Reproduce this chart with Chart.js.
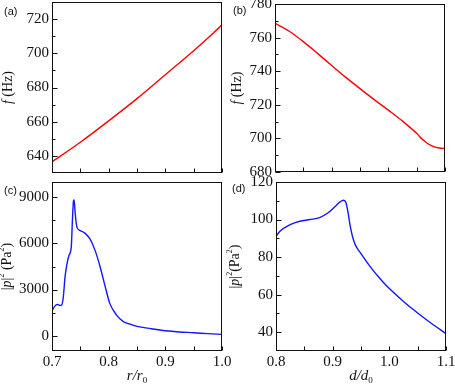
<!DOCTYPE html>
<html>
<head>
<meta charset="utf-8">
<script src="https://cdn.jsdelivr.net/npm/chart.js@4.4.1/dist/chart.umd.min.js"></script>
<style>
    body { margin: 0; background: #fff; }
    #wrap { position: relative; width: 455px; height: 384px; }
    #wrap canvas { position: absolute; left: 0; top: 0; }
</style>
</head>
<body>
<div id="wrap">
    <canvas id="chartA" width="455" height="384"></canvas>
    <canvas id="chartB" width="455" height="384"></canvas>
    <canvas id="chartC" width="455" height="384"></canvas>
    <canvas id="chartD" width="455" height="384"></canvas>
</div>
<script>
// --- (a) frequency vs r/r0 ---
const aX = [0.70, 0.75, 0.80, 0.85, 0.90, 0.95, 1.00];
const aF = [636.5, 648, 660.5, 673.5, 687.5, 701.5, 716.5];

// --- (b) frequency vs d/d0 ---
const bX = [0.80, 0.825, 0.85, 0.875, 0.90, 0.925, 0.95, 0.975, 1.00, 1.025, 1.05, 1.06, 1.07, 1.08, 1.09, 1.10];
const bF = [768.5, 763.8, 757.6, 750.6, 743.4, 736.3, 729.6, 723.1, 716.8, 710.3, 703.0, 699.5, 696.8, 695.1, 694.3, 694.0];

// --- (c) |p|^2 vs r/r0 ---
const cX = [0.700, 0.705, 0.709, 0.714, 0.717, 0.720, 0.723, 0.726, 0.730, 0.734, 0.736, 0.738, 0.739, 0.741,
            0.744, 0.749, 0.758, 0.767, 0.776, 0.785, 0.794, 0.802, 0.814, 0.826, 0.838, 0.850, 0.875, 0.900,
            0.925, 0.950, 0.975, 1.000];
const cP = [1620, 1920, 2030, 1970, 1990, 2520, 3820, 4580, 5230, 5760, 7490, 8790, 8830, 7930,
            7060, 6850, 6670, 6300, 5550, 4470, 3170, 2100, 1340, 910, 740, 600, 450, 320,
            240, 190, 130, 80];

// --- (d) |p|^2 vs d/d0 ---
const dX = [0.800, 0.807, 0.825, 0.842, 0.860, 0.878, 0.892, 0.904, 0.913, 0.919, 0.9235, 0.927, 0.931,
            0.935, 0.940, 0.950, 0.960, 0.970, 0.980, 0.990, 1.000, 1.025, 1.050, 1.075, 1.100];
const dP = [91.1, 93.8, 97.3, 99.1, 100, 101.2, 103.6, 106.8, 109.4, 110.3, 108.9, 104, 96.5,
            91, 86.5, 81.8, 77.5, 73.5, 69.8, 66.4, 63.3, 56.4, 50.2, 44.5, 39.2];

// --- tick labels / tick marks ---
const rTicks = [0.7, 0.8, 0.9, 1.0];
const rMinor = [0.75, 0.85, 0.95];
const dTicks = [0.8, 0.9, 1.0, 1.1];
const dMinor = [0.85, 0.95, 1.05];
const aYTicks = [640, 660, 680, 700, 720];
const aYMinor = [650, 670, 690, 710];
const bYTicks = [680, 700, 720, 740, 760, 780];
const bYMinor = [690, 710, 730, 750, 770];
const cYTicks = [0, 3000, 6000, 9000];
const cYMinor = [1500, 4500, 7500];
const dYTicks = [40, 60, 80, 100, 120];
const dYMinor = [50, 70, 90, 110];

const SERIF = '"Liberation Serif", "Times New Roman", serif';
const SANS = '"Liberation Sans", Arial, sans-serif';
const INK = '#111';

// title pieces: [text, style] with style n = normal, i = italic, sup, sub
const fTitle = [['f', 'i'], [' (Hz)', 'n']];
const pTitle = [['|', 'n'], ['p', 'i'], ['|', 'n'], ['2', 'sup'], [' (Pa', 'n'], ['2', 'sup'], [')', 'n']];
const pTitleTight = [['|', 'n'], ['p', 'i'], ['|', 'n'], ['2', 'sup'], ['(Pa', 'n'], ['2', 'sup'], [')', 'n']];
const rTitle = [['r', 'i'], ['/', 'i'], ['r', 'i'], ['0', 'sub']];
const dTitle = [['d', 'i'], ['/', 'i'], ['d', 'i'], ['0', 'sub']];

// draw a run of mixed-style text centred on (0,0) of the current transform
function drawRich(ctx, parts, size) {
    const fontFor = s => {
        if (s === 'i') return `italic ${size}px ${SERIF}`;
        if (s === 'sup' || s === 'sub') return `${Math.round(size * 0.6)}px ${SERIF}`;
        return `${size}px ${SERIF}`;
    };
    let total = 0;
    parts.forEach(([t, s]) => { ctx.font = fontFor(s); total += ctx.measureText(t).width; });
    let x = -total / 2;
    ctx.textBaseline = 'middle';
    ctx.textAlign = 'left';
    parts.forEach(([t, s]) => {
        ctx.font = fontFor(s);
        let dy = 0;
        if (s === 'sup') dy = -size * 0.35;
        if (s === 'sub') dy = size * 0.3;
        ctx.fillText(t, x, dy);
        x += ctx.measureText(t).width;
    });
}

// frame, inward tick marks, axis titles and panel letter
const framePlugin = {
    id: 'panelFrame',
    afterDraw(chart) {
        const p = chart.options.plugins.panelFrame;
        const { ctx, chartArea: a, scales } = chart;
        const L = Math.round(a.left) + 0.5, R = Math.round(a.right) - 0.5;
        const T = Math.round(a.top) + 0.5, B = Math.round(a.bottom) - 0.5;
        ctx.save();
        ctx.strokeStyle = INK;
        ctx.lineWidth = 1;
        ctx.strokeRect(L, T, R - L, B - T);

        ctx.beginPath();
        const yTick = (v, len) => {
            const py = Math.round(scales.y.getPixelForValue(v)) + 0.5;
            ctx.moveTo(L, py); ctx.lineTo(L + len, py);
        };
        const xTick = (v, len) => {
            const px = Math.round(scales.x.getPixelForValue(v)) + 0.5;
            ctx.moveTo(px, B); ctx.lineTo(px, B - len);
        };
        p.yMajor.forEach(v => yTick(v, 5));
        p.yMinor.forEach(v => yTick(v, 3));
        p.xMajor.forEach(v => xTick(v, 4));
        p.xMinor.forEach(v => xTick(v, 4));
        ctx.stroke();

        ctx.fillStyle = INK;
        // y title, rotated
        ctx.save();
        ctx.translate(a.left - p.yTitleOffset, (a.top + a.bottom) / 2);
        ctx.rotate(-Math.PI / 2);
        drawRich(ctx, p.yTitle, 14);
        ctx.restore();
        // x title
        if (p.xTitle) {
            ctx.save();
            ctx.translate((a.left + a.right) / 2, 376);
            drawRich(ctx, p.xTitle, 15);
            ctx.restore();
        }
        // panel letter
        ctx.font = `11px ${SANS}`;
        ctx.textAlign = 'left';
        ctx.textBaseline = 'alphabetic';
        ctx.fillText(p.letter, p.letterX, p.letterY);
        ctx.restore();
    }
};

function makePanel(id, cfg) {
    const tickFont = { family: SERIF, size: 15 };
    return new Chart(document.getElementById(id), {
        type: 'scatter',
        data: {
            datasets: [{
                data: cfg.x.map((v, i) => ({ x: v, y: cfg.y[i] })),
                showLine: true,
                borderColor: cfg.color,
                borderWidth: 1.4,
                pointRadius: 0,
                cubicInterpolationMode: 'monotone',
                fill: false
            }]
        },
        options: {
            responsive: false,
            animation: false,
            devicePixelRatio: 1,
            layout: { padding: cfg.pad },
            plugins: {
                legend: { display: false },
                tooltip: { enabled: false },
                panelFrame: cfg.frame
            },
            scales: {
                x: {
                    type: 'linear',
                    min: cfg.xMin,
                    max: cfg.xMax,
                    grid: { display: false, drawTicks: false },
                    border: { display: false },
                    ticks: {
                        display: cfg.xLabels,
                        padding: 2,
                        color: INK,
                        font: tickFont,
                        maxRotation: 0,
                        callback: v => v.toFixed(1)
                    },
                    afterBuildTicks: s => { s.ticks = cfg.frame.xMajor.map(v => ({ value: v })); },
                    afterFit: s => {
                        s.height = cfg.xLabels ? 20 : 0;
                        s.paddingLeft = 0; s.paddingRight = 0;
                    }
                },
                y: {
                    type: 'linear',
                    min: cfg.yMin,
                    max: cfg.yMax,
                    grid: { display: false, drawTicks: false },
                    border: { display: false },
                    ticks: {
                        padding: 3,
                        color: INK,
                        font: tickFont,
                        callback: v => String(v)
                    },
                    afterBuildTicks: s => { s.ticks = cfg.frame.yMajor.map(v => ({ value: v })); },
                    afterFit: s => {
                        s.width = 50;
                        s.paddingTop = 0; s.paddingBottom = 0;
                    }
                }
            }
        },
        plugins: [framePlugin]
    });
}

makePanel('chartA', {
    x: aX, y: aF, color: '#ff0000',
    xMin: 0.7, xMax: 1.0, yMin: 630, yMax: 730, xLabels: false,
    pad: { left: 2, right: 233, top: 2, bottom: 211 },
    frame: { xMajor: rTicks, xMinor: rMinor, yMajor: aYTicks, yMinor: aYMinor,
             yTitle: fTitle, yTitleOffset: 44, letter: '(a)', letterX: 4, letterY: 15 }
});

makePanel('chartB', {
    x: bX, y: bF, color: '#ff0000',
    xMin: 0.8, xMax: 1.1, yMin: 680, yMax: 780, xLabels: false,
    pad: { left: 225, right: 10, top: 4, bottom: 212 },
    frame: { xMajor: dTicks, xMinor: dMinor, yMajor: bYTicks, yMinor: bYMinor,
             yTitle: fTitle, yTitleOffset: 38, letter: '(b)', letterX: 233, letterY: 14 }
});

makePanel('chartC', {
    x: cX, y: cP, color: '#1414ff',
    xMin: 0.7, xMax: 1.0, yMin: -1000, yMax: 10000, xLabels: true,
    pad: { left: 2, right: 233, top: 182, bottom: 13 },
    frame: { xMajor: rTicks, xMinor: rMinor, yMajor: cYTicks, yMinor: cYMinor,
             yTitle: pTitle, yTitleOffset: 45, xTitle: rTitle, letter: '(c)', letterX: 4, letterY: 194 }
});

makePanel('chartD', {
    x: dX, y: dP, color: '#1414ff',
    xMin: 0.8, xMax: 1.1, yMin: 30, yMax: 120, xLabels: true,
    pad: { left: 226, right: 9, top: 182, bottom: 13 },
    frame: { xMajor: dTicks, xMinor: dMinor, yMajor: dYTicks, yMinor: dYMinor,
             yTitle: pTitleTight, yTitleOffset: 41, xTitle: dTitle, letter: '(d)', letterX: 232, letterY: 192 }
});
</script>
</body>
</html>
